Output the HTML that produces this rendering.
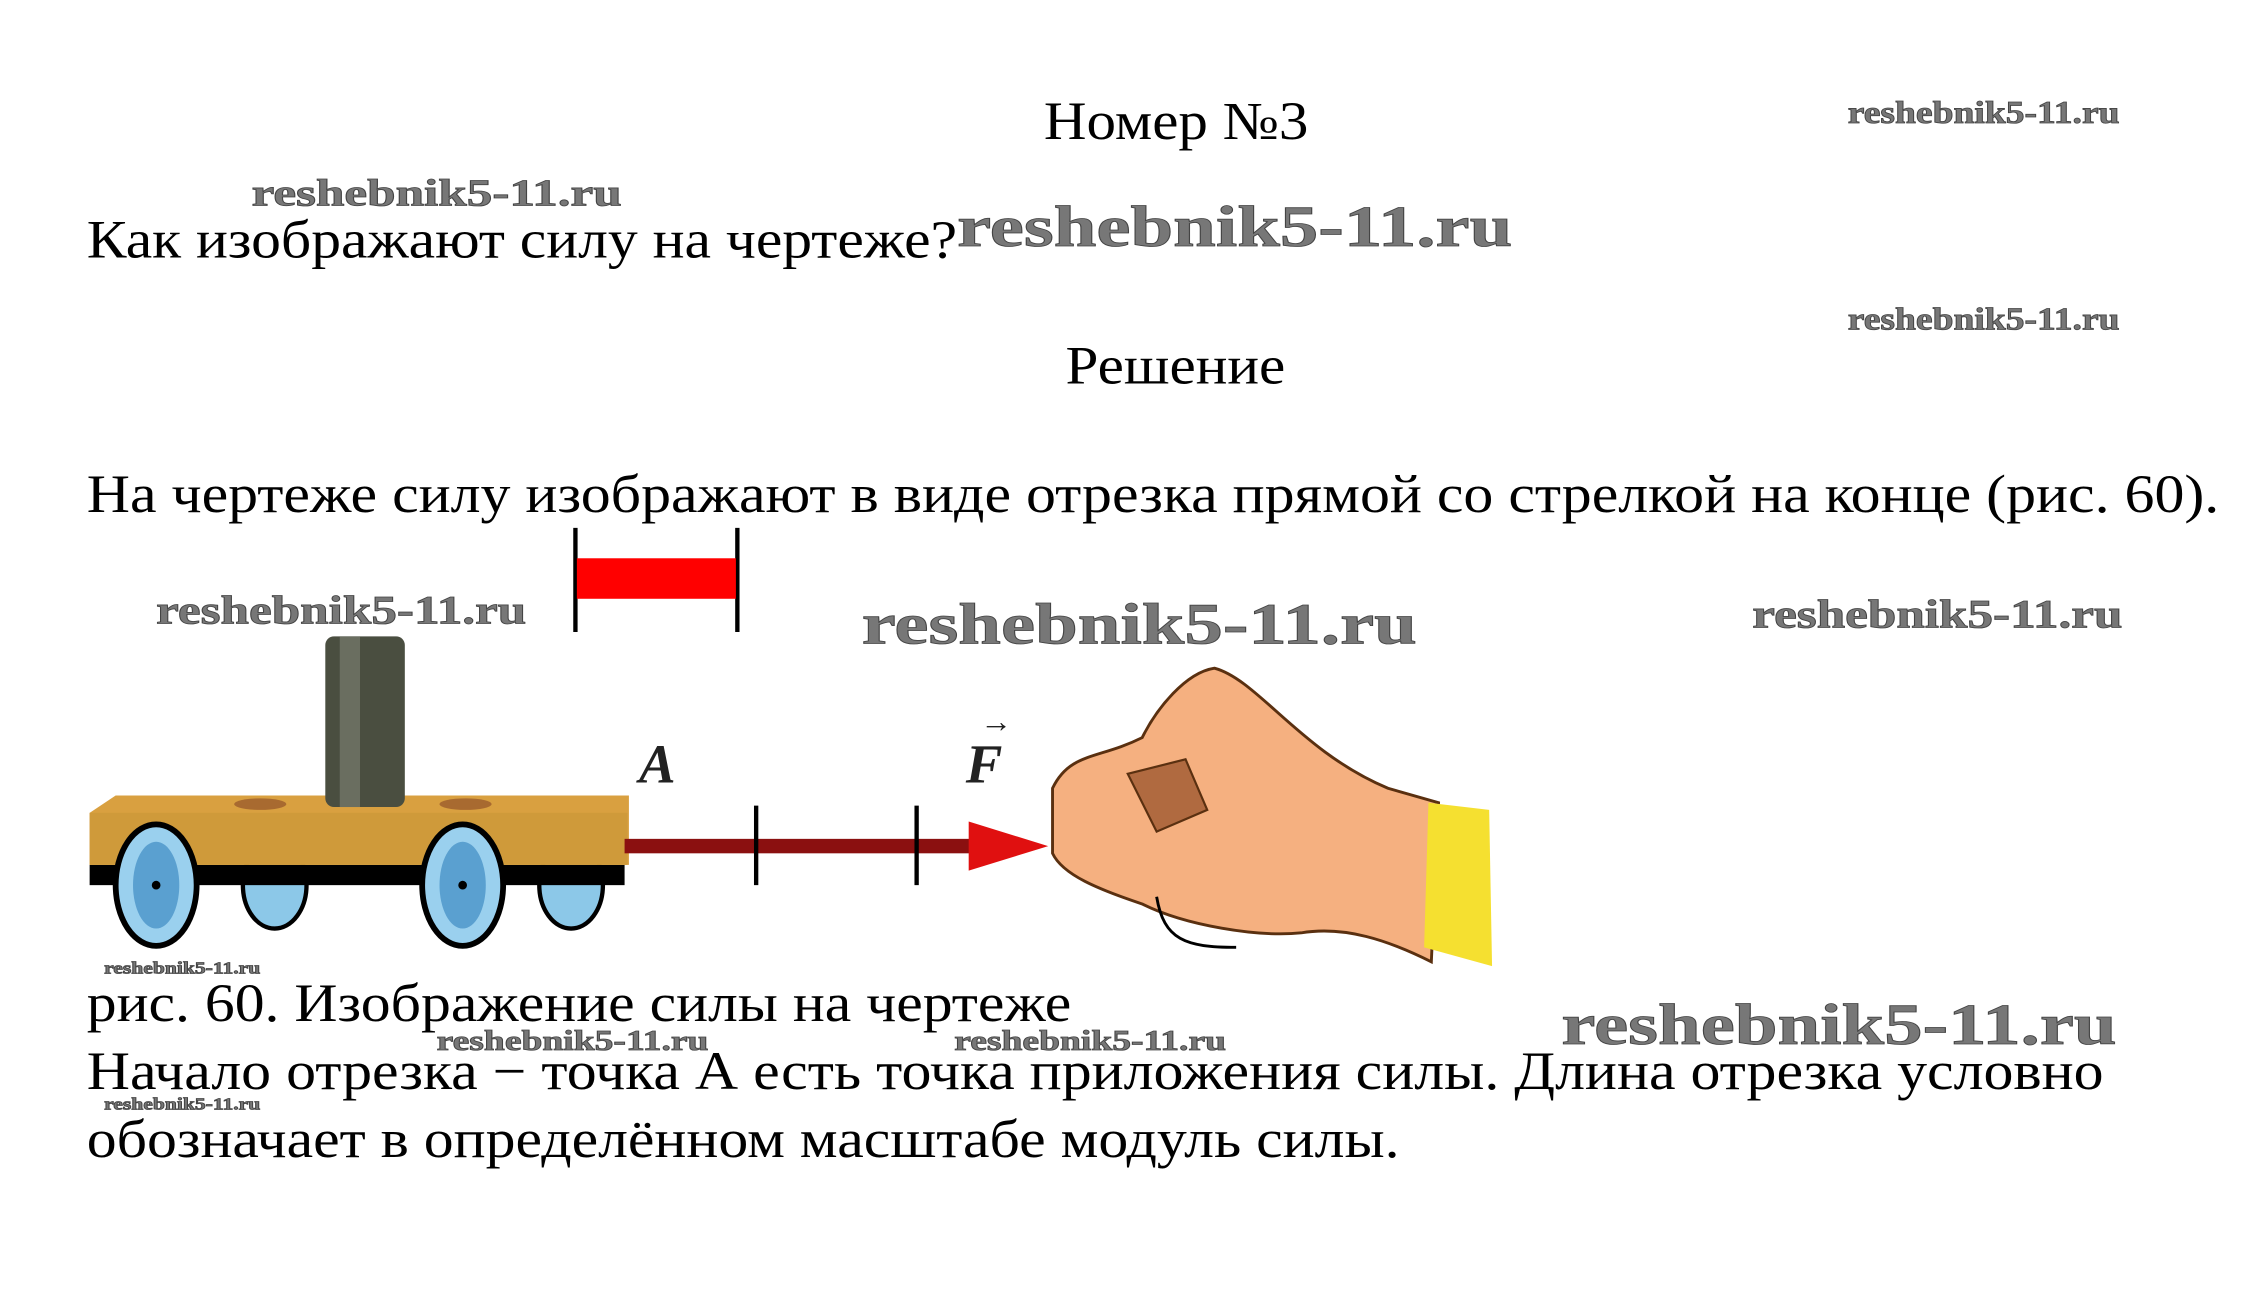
<!DOCTYPE html>
<html><head><meta charset="utf-8"><style>
html,body{margin:0;padding:0;background:#fff;width:2267px;height:1293px;overflow:hidden}
svg{display:block}
.t{font-family:"Liberation Serif","Noto Serif CJK SC",serif;font-size:37px;fill:#000}
.w{font-family:"Liberation Serif",serif;font-weight:bold;fill:#777;stroke:#444;stroke-width:0.6}
</style></head><body>
<svg width="2267" height="1293" viewBox="0 0 1568 894" preserveAspectRatio="none" xmlns="http://www.w3.org/2000/svg">
<rect width="1568" height="894" fill="#fff"/>
<!-- figure -->
<line x1="398" y1="365" x2="398" y2="437" stroke="#000" stroke-width="3"/>
<line x1="510" y1="365" x2="510" y2="437" stroke="#000" stroke-width="3"/>
<rect x="399" y="386" width="110" height="28" fill="#f00"/>
<!-- cart -->
<ellipse cx="190" cy="612" rx="22" ry="30" fill="#8cc8e8" stroke="#000" stroke-width="3"/>
<ellipse cx="395" cy="612" rx="22" ry="30" fill="#8cc8e8" stroke="#000" stroke-width="3"/>
<rect x="62" y="598" width="370" height="14" fill="#000"/>
<polygon points="62,562 80,550 435,550 435,598 62,598" fill="#d9a040"/>
<rect x="62" y="562" width="372" height="36" fill="#cf9a3a"/>
<ellipse cx="180" cy="556" rx="18" ry="4" fill="#a86a30"/>
<ellipse cx="322" cy="556" rx="18" ry="4" fill="#a86a30"/>
<rect x="225" y="440" width="55" height="118" rx="6" fill="#4a4e40"/>
<rect x="235" y="440" width="14" height="118" fill="#6a6e60"/>
<ellipse cx="108" cy="612" rx="28" ry="42" fill="#9ad0ee" stroke="#000" stroke-width="4"/>
<ellipse cx="108" cy="612" rx="16" ry="30" fill="#5aa0d0"/>
<ellipse cx="320" cy="612" rx="28" ry="42" fill="#9ad0ee" stroke="#000" stroke-width="4"/>
<ellipse cx="320" cy="612" rx="16" ry="30" fill="#5aa0d0"/>
<circle cx="108" cy="612" r="3" fill="#000"/><circle cx="320" cy="612" r="3" fill="#000"/>
<!-- arrow -->
<rect x="432" y="580" width="248" height="10" fill="#8b1010"/>
<polygon points="670,568 725,585 670,602" fill="#e01010"/>
<line x1="523" y1="557" x2="523" y2="612" stroke="#000" stroke-width="3"/>
<line x1="634" y1="557" x2="634" y2="612" stroke="#000" stroke-width="3"/>
<text x="442" y="541" font-family="Liberation Serif,serif" font-style="italic" font-weight="bold" font-size="38" fill="#222">A</text>
<text x="668" y="541" font-family="Liberation Serif,serif" font-style="italic" font-weight="bold" font-size="38" fill="#222">F</text>
<text x="678" y="506" font-family="Liberation Serif,serif" font-size="22" fill="#222">→</text>
<!-- hand -->
<path d="M728,545 C740,520 760,525 790,510 C800,490 820,465 840,462 C870,470 900,520 960,545 L995,555 L990,665 C960,650 930,640 900,645 C870,648 820,640 790,625 C760,615 735,605 728,590 Z" fill="#f5b080" stroke="#5a3010" stroke-width="2"/>
<path d="M780,535 L820,525 L835,560 L800,575 Z" fill="#b06a40" stroke="#5a3010" stroke-width="1.5"/>
<polygon points="988,555 1030,560 1032,668 985,655" fill="#f5e030"/>
<path d="M800,620 C805,650 820,655 855,655" fill="none" stroke="#000" stroke-width="2"/>
<!-- text -->
<text class="t" x="722" y="96" textLength="183" lengthAdjust="spacingAndGlyphs">Номер №3</text>
<text class="t" x="60" y="178" textLength="602" lengthAdjust="spacingAndGlyphs">Как изображают силу на чертеже?</text>
<text class="t" x="737" y="265" textLength="152" lengthAdjust="spacingAndGlyphs">Решение</text>
<text class="t" x="60" y="354" textLength="1475" lengthAdjust="spacingAndGlyphs">На чертеже силу изображают в виде отрезка прямой со стрелкой на конце (рис. 60).</text>
<text class="t" x="60" y="706" textLength="681" lengthAdjust="spacingAndGlyphs">рис. 60. Изображение силы на чертеже</text>
<text class="t" x="60" y="753" textLength="1395" lengthAdjust="spacingAndGlyphs">Начало отрезка − точка А есть точка приложения силы. Длина отрезка условно</text>
<text class="t" x="60" y="800" textLength="908" lengthAdjust="spacingAndGlyphs">обозначает в определённом масштабе модуль силы.</text>
<!-- watermarks -->
<text class="w" x="1278" y="85" font-size="22" textLength="188" lengthAdjust="spacingAndGlyphs">reshebnik5-11.ru</text>
<text class="w" x="174" y="142" font-size="26" textLength="256" lengthAdjust="spacingAndGlyphs">reshebnik5-11.ru</text>
<text class="w" x="662" y="170" font-size="40" textLength="384" lengthAdjust="spacingAndGlyphs">reshebnik5-11.ru</text>
<text class="w" x="1278" y="228" font-size="22" textLength="188" lengthAdjust="spacingAndGlyphs">reshebnik5-11.ru</text>
<text class="w" x="108" y="431" font-size="28" textLength="256" lengthAdjust="spacingAndGlyphs">reshebnik5-11.ru</text>
<text class="w" x="596" y="445" font-size="40" textLength="384" lengthAdjust="spacingAndGlyphs">reshebnik5-11.ru</text>
<text class="w" x="1212" y="434" font-size="28" textLength="256" lengthAdjust="spacingAndGlyphs">reshebnik5-11.ru</text>
<text class="w" x="72" y="673" font-size="12" textLength="108" lengthAdjust="spacingAndGlyphs">reshebnik5-11.ru</text>
<text class="w" x="1080" y="722" font-size="40" textLength="384" lengthAdjust="spacingAndGlyphs">reshebnik5-11.ru</text>
<text class="w" x="302" y="726" font-size="20" textLength="188" lengthAdjust="spacingAndGlyphs">reshebnik5-11.ru</text>
<text class="w" x="660" y="726" font-size="20" textLength="188" lengthAdjust="spacingAndGlyphs">reshebnik5-11.ru</text>
<text class="w" x="72" y="767" font-size="12" textLength="108" lengthAdjust="spacingAndGlyphs">reshebnik5-11.ru</text>
</svg>
</body></html>
